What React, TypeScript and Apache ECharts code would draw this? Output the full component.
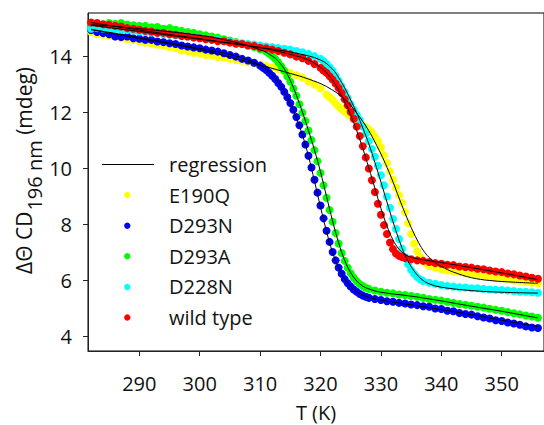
import React, { useEffect, useRef } from "react";
import * as echarts from "echarts";

const xTicks = [290, 300, 310, 320, 330, 340, 350];
const yTicks = [4, 6, 8, 10, 12, 14];
const seriesNames = ["E190Q", "D293N", "D293A", "D228N", "wild type"];
const seriesColors = ["#ffff00", "#0000ff", "#00ff00", "#00ffff", "#ff0000"];
const regressionName = "regression";
const xTitle = "T (K)";
const yTitleMain = "ΔΘ CD";
const yTitleSub = "196 nm";
const yTitleUnit = " (mdeg)";

const e190q: [number, number][] = [[282,14.88],[283,14.8],[284,14.78],[285,14.74],[286,14.72],[287,14.66],[288,14.62],[289,14.6],[290,14.55],[291,14.5],[292,14.47],[293,14.42],[294,14.4],[295,14.34],[296,14.3],[297,14.22],[298,14.2],[299,14.14],[300,14.12],[301,14.06],[302,14.04],[303,13.98],[304,13.97],[305,13.92],[306,13.88],[307,13.85],[308,13.8],[309,13.76],[310,13.72],[311,13.66],[312,13.62],[313,13.55],[314,13.48],[315,13.42],[316,13.34],[317,13.25],[318,13.12],[319,13.0],[320,12.86],[321,12.65],[321.5,12.55],[322,12.45],[322.5,12.32],[323,12.22],[323.5,12.12],[324,12.02],[324.5,11.95],[325,11.88],[325.5,11.8],[326,11.7],[326.5,11.62],[327,11.55],[327.5,11.48],[328,11.4],[328.5,11.3],[329,11.15],[329.5,10.98],[330,10.75],[330.5,10.48],[331,10.2],[331.5,9.9],[332,9.6],[332.5,9.32],[333,9.05],[333.5,8.78],[334,8.45],[334.5,8.05],[335,7.66],[335.5,7.32],[336,7.05],[336.5,6.85],[337,6.7],[337.5,6.6],[338,6.52],[339,6.45],[340,6.4],[341,6.36],[342,6.32],[343,6.3],[344,6.26],[345,6.24],[346,6.2],[347,6.18],[348,6.14],[349,6.1],[350,6.08],[351,6.05],[352,6.0],[353,5.98],[354,5.95],[355,5.92],[356,5.9]];

const d293n: [number, number][] = [[282,14.95],[283,14.88],[284,14.84],[285,14.8],[286,14.72],[287,14.7],[288,14.72],[289,14.66],[290,14.64],[291,14.6],[292,14.6],[293,14.54],[294,14.52],[295,14.48],[296,14.45],[297,14.4],[298,14.36],[299,14.33],[300,14.3],[301,14.25],[302,14.22],[303,14.18],[304,14.12],[305,14.06],[306,14.0],[307,13.92],[308,13.86],[309,13.78],[310,13.68],[310.5,13.6],[311,13.52],[311.5,13.42],[312,13.32],[312.5,13.2],[313,13.06],[313.5,12.92],[314,12.74],[314.5,12.55],[315,12.34],[315.5,12.1],[316,11.84],[316.5,11.55],[317,11.22],[317.5,10.86],[318,10.46],[318.5,10.04],[319,9.6],[319.5,9.14],[320,8.68],[320.5,8.22],[321,7.78],[321.5,7.38],[322,7.02],[322.5,6.72],[323,6.46],[323.5,6.24],[324,6.05],[324.5,5.9],[325,5.78],[325.5,5.68],[326,5.6],[326.5,5.52],[327,5.46],[327.5,5.42],[328,5.38],[329,5.34],[330,5.3],[331,5.26],[332,5.24],[333,5.2],[334,5.18],[335,5.14],[336,5.12],[337,5.08],[338,5.06],[339,5.0],[340,4.98],[341,4.92],[342,4.9],[343,4.84],[344,4.8],[345,4.78],[346,4.72],[347,4.68],[348,4.64],[349,4.58],[350,4.55],[351,4.5],[352,4.46],[353,4.42],[354,4.36],[355,4.32],[356,4.3]];

const d293a: [number, number][] = [[282,15.12],[283,15.18],[284,15.15],[285,15.2],[286,15.17],[287,15.2],[288,15.15],[289,15.12],[290,15.1],[291,15.1],[292,15.05],[293,15.06],[294,15.0],[295,15.02],[296,14.96],[297,14.92],[298,14.88],[299,14.85],[300,14.8],[301,14.76],[302,14.72],[303,14.68],[304,14.62],[305,14.58],[306,14.52],[307,14.46],[308,14.4],[309,14.34],[310,14.26],[311,14.18],[311.5,14.1],[312,14.02],[312.5,13.92],[313,13.8],[313.5,13.66],[314,13.5],[314.5,13.3],[315,13.1],[315.5,12.86],[316,12.6],[316.5,12.3],[317,12.0],[317.5,11.7],[318,11.36],[318.5,11.02],[319,10.66],[319.5,10.26],[320,9.84],[320.5,9.4],[321,8.96],[321.5,8.52],[322,8.1],[322.5,7.7],[323,7.32],[323.5,6.98],[324,6.7],[324.5,6.46],[325,6.26],[325.5,6.1],[326,5.97],[326.5,5.87],[327,5.8],[327.5,5.74],[328,5.7],[329,5.64],[330,5.6],[331,5.56],[332,5.54],[333,5.5],[334,5.48],[335,5.45],[336,5.42],[337,5.38],[338,5.34],[339,5.31],[340,5.28],[341,5.24],[342,5.2],[343,5.16],[344,5.13],[345,5.1],[346,5.06],[347,5.03],[348,4.99],[349,4.95],[350,4.92],[351,4.87],[352,4.83],[353,4.79],[354,4.75],[355,4.71],[356,4.67]];

const d228n: [number, number][] = [[282,15.0],[283,15.02],[284,15.0],[285,14.98],[286,14.98],[287,14.96],[288,14.95],[289,14.93],[290,14.9],[291,14.88],[292,14.86],[293,14.84],[294,14.8],[295,14.79],[296,14.76],[297,14.75],[298,14.72],[299,14.7],[300,14.68],[301,14.64],[302,14.62],[303,14.6],[304,14.56],[305,14.54],[306,14.5],[307,14.48],[308,14.45],[309,14.43],[310,14.4],[311,14.36],[312,14.34],[313,14.31],[314,14.28],[315,14.25],[316,14.2],[317,14.16],[318,14.1],[319,14.02],[320,13.92],[320.5,13.84],[321,13.74],[321.5,13.62],[322,13.5],[322.5,13.32],[323,13.14],[323.5,12.94],[324,12.74],[324.5,12.52],[325,12.3],[325.5,12.1],[326,11.92],[326.5,11.74],[327,11.5],[327.5,11.25],[328,10.98],[328.5,10.7],[329,10.42],[329.5,10.1],[330,9.76],[330.5,9.4],[331,9.0],[331.5,8.6],[332,8.2],[332.5,7.84],[333,7.48],[333.5,7.14],[334,6.84],[334.5,6.58],[335,6.38],[335.5,6.24],[336,6.12],[336.5,6.04],[337,5.98],[338,5.92],[339,5.88],[340,5.84],[341,5.8],[342,5.78],[343,5.76],[344,5.75],[345,5.72],[346,5.72],[347,5.7],[348,5.68],[349,5.67],[350,5.66],[351,5.64],[352,5.62],[353,5.6],[354,5.6],[355,5.58],[356,5.56]];

const wildType: [number, number][] = [[282,15.22],[283,15.2],[284,15.16],[285,15.14],[286,15.1],[287,15.08],[288,15.02],[289,15.0],[290,14.96],[291,14.92],[292,14.9],[293,14.85],[294,14.85],[295,14.8],[296,14.78],[297,14.74],[298,14.72],[299,14.68],[300,14.66],[301,14.62],[302,14.6],[303,14.55],[304,14.55],[305,14.5],[306,14.46],[307,14.45],[308,14.4],[309,14.38],[310,14.32],[311,14.3],[312,14.25],[313,14.2],[314,14.14],[315,14.08],[316,14.0],[317,13.94],[318,13.85],[319,13.74],[320,13.6],[320.5,13.5],[321,13.42],[321.5,13.3],[322,13.18],[322.5,13.04],[323,12.88],[323.5,12.7],[324,12.48],[324.5,12.26],[325,12.02],[325.5,11.78],[326,11.5],[326.5,11.16],[327,10.8],[327.5,10.4],[328,10.0],[328.5,9.58],[329,9.16],[329.5,8.74],[330,8.35],[330.5,7.98],[331,7.66],[331.5,7.36],[332,7.12],[332.5,6.96],[333,6.88],[333.5,6.84],[334,6.8],[335,6.76],[336,6.72],[337,6.7],[338,6.66],[339,6.62],[340,6.6],[341,6.56],[342,6.55],[343,6.5],[344,6.48],[345,6.46],[346,6.42],[347,6.4],[348,6.36],[349,6.32],[350,6.3],[351,6.25],[352,6.22],[353,6.18],[354,6.14],[355,6.1],[356,6.06]];

const fitE190Q: [number, number][] = [[282,14.96],[290,14.65],[300,14.25],[308,13.81],[315,13.4],[318,13.2],[321,12.93],[324,12.48],[326,11.98],[328,11.35],[329,10.95],[330,10.52],[331,10.05],[332,9.52],[333,8.95],[334,8.4],[335,7.9],[336,7.45],[337,7.08],[338,6.82],[339,6.64],[340,6.5],[342,6.3],[345,6.1],[348,6.0],[352,5.94],[356,5.9]];
const fitD293N: [number, number][] = [[282,14.98],[290,14.68],[300,14.3],[305,14.08],[308,13.88],[310,13.7],[312,13.35],[313,13.08],[314,12.75],[315,12.33],[316,11.8],[317,11.2],[318,10.45],[319,9.55],[320,8.62],[321,7.75],[322,7.0],[323,6.45],[324,6.05],[325,5.78],[326,5.6],[327,5.48],[328,5.4],[330,5.3],[335,5.13],[340,4.96],[345,4.78],[350,4.58],[356,4.35]];
const fitD293A: [number, number][] = [[282,15.15],[290,15.0],[300,14.76],[305,14.56],[310,14.25],[312,14.02],[313,13.84],[314,13.56],[315,13.15],[316,12.62],[317,12.02],[318,11.36],[319,10.66],[320,9.88],[321,9.0],[322,8.12],[323,7.35],[324,6.72],[325,6.28],[326,5.98],[327,5.8],[328,5.7],[330,5.58],[335,5.44],[340,5.27],[345,5.08],[350,4.9],[356,4.66]];
const fitD228N: [number, number][] = [[282,15.12],[290,14.9],[300,14.62],[310,14.33],[316,14.12],[320,13.88],[322,13.55],[323,13.25],[324,12.88],[325,12.45],[326,11.98],[327,11.45],[328,10.88],[329,10.22],[330,9.52],[331,8.8],[332,8.1],[333,7.45],[334,6.9],[335,6.5],[336,6.2],[337,6.0],[338,5.88],[340,5.76],[345,5.64],[350,5.58],[356,5.55]];
const fitWildType: [number, number][] = [[282,15.22],[290,14.95],[300,14.64],[310,14.32],[315,14.08],[318,13.88],[320,13.62],[321,13.42],[322,13.15],[323,12.8],[324,12.38],[325,11.9],[326,11.35],[327,10.72],[328,10.02],[329,9.3],[330,8.58],[331,7.95],[332,7.45],[333,7.12],[334,6.93],[335,6.83],[337,6.74],[340,6.64],[345,6.46],[350,6.27],[356,6.03]];

const pointSets = [e190q, d293n, d293a, d228n, wildType];
const fitSets = [fitE190Q, fitD293N, fitD293A, fitD228N, fitWildType];

const FONT = "'Open Sans', 'Liberation Sans', sans-serif";
const TXT = "#111111";

function measure(text: string, size: number): number {
  const c = document.createElement("canvas");
  const ctx = c.getContext("2d");
  if (!ctx) return text.length * size * 0.55;
  ctx.font = `${size}px ${FONT}`;
  return ctx.measureText(text).width;
}

function buildOption(): any {
  const gridLeft = 88;
  const gridTop = 13;
  const xMin = 281.5;
  const xMax = 357;
  const pxPerK = 6.107;
  const scatter = pointSets.map((d, i) => ({
    type: "scatter",
    name: seriesNames[i],
    data: d,
    symbol: "circle",
    symbolSize: 8,
    itemStyle: { color: seriesColors[i], opacity: 1 },
    z: 2 + i,
    silent: true,
  }));
  const lines = fitSets.map((d) => ({
    type: "line",
    name: regressionName,
    data: d,
    showSymbol: false,
    smooth: 0.4,
    lineStyle: { color: "#000", width: 1 },
    z: 10,
    silent: true,
  }));
  const legendX = 102;
  const legendY0 = 164.5;
  const legendStep = 30.6;
  const fs = 20;
  const legendItems: any[] = [
    { type: "line", shape: { x1: legendX, y1: legendY0, x2: legendX + 52, y2: legendY0 }, style: { stroke: "#000", lineWidth: 1 } },
    { type: "text", x: 169, y: legendY0, style: { text: regressionName, fill: TXT, fontSize: fs, fontFamily: FONT, verticalAlign: "middle", align: "left" } },
  ];
  seriesNames.forEach((n, i) => {
    const y = legendY0 + legendStep * (i + 1);
    legendItems.push({ type: "circle", shape: { cx: 127.3, cy: y, r: 3.2 }, style: { fill: seriesColors[i] } });
    legendItems.push({ type: "text", x: 169, y, style: { text: n, fill: TXT, fontSize: fs, fontFamily: FONT, verticalAlign: "middle", align: "left" } });
  });

  const tFs = 21;
  const subFs = 20;
  const w1 = measure(yTitleMain, tFs);
  const w2 = measure(yTitleSub, subFs);
  const yTitle = {
    type: "group",
    x: 24,
    y: 274,
    rotation: Math.PI / 2,
    children: [
      { type: "text", x: 0, y: 0, style: { text: yTitleMain, fill: TXT, fontSize: tFs, fontFamily: FONT, align: "left", verticalAlign: "middle" } },
      { type: "text", x: w1 + 1, y: 10, style: { text: yTitleSub, fill: TXT, fontSize: subFs, fontFamily: FONT, align: "left", verticalAlign: "middle" } },
      { type: "text", x: w1 + w2 + 1, y: 0, style: { text: yTitleUnit, fill: TXT, fontSize: tFs, fontFamily: FONT, align: "left", verticalAlign: "middle" } },
    ],
  };

  return {
    animation: false,
    backgroundColor: "#fff",
    grid: {
      left: gridLeft,
      top: gridTop,
      width: (xMax - xMin) * pxPerK,
      height: 338,
      show: true,
      borderColor: "#000",
      borderWidth: 1,
    },
    xAxis: {
      type: "value",
      min: xMin,
      max: xMax,
      axisLine: { show: true, lineStyle: { color: "#222", width: 1 } },
      axisTick: { show: true, customValues: xTicks, length: 5, inside: false, lineStyle: { color: "#222" } },
      axisLabel: { customValues: xTicks, margin: 22, fontSize: fs, fontFamily: FONT, color: TXT },
      splitLine: { show: false },
    },
    yAxis: {
      type: "value",
      min: 3.48,
      max: 15.56,
      axisLine: { show: true, lineStyle: { color: "#222", width: 1 } },
      axisTick: { show: true, customValues: yTicks, length: 5, inside: false, lineStyle: { color: "#222" } },
      axisLabel: { customValues: yTicks, margin: 16, fontSize: fs, fontFamily: FONT, color: TXT },
      splitLine: { show: false },
    },
    graphic: [
      ...legendItems,
      {
        type: "text",
        x: 316,
        y: 412,
        style: { text: xTitle, fill: TXT, fontSize: fs, fontFamily: FONT, align: "center", verticalAlign: "middle" },
      },
      yTitle,
    ],
    series: [...scatter, ...lines],
  };
}

export default function App() {
  const ref = useRef<HTMLDivElement>(null);
  useEffect(() => {
    document.body.style.margin = "0";
    const chart = echarts.init(ref.current!, undefined, { renderer: "svg" });
    chart.setOption(buildOption());
    return () => chart.dispose();
  }, []);
  return <div ref={ref} style={{ width: 544, height: 425 }} />;
}
